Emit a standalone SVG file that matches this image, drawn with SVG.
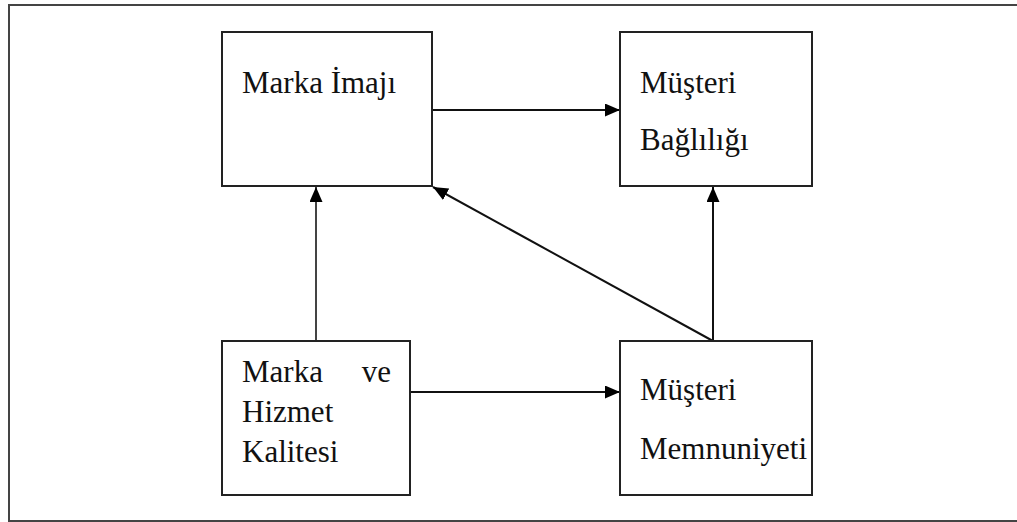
<svg xmlns="http://www.w3.org/2000/svg" width="1017" height="522" viewBox="0 0 1017 522">
  <defs>
    <marker id="arrow" markerUnits="userSpaceOnUse" markerWidth="15" markerHeight="13" refX="15" refY="6.5" orient="auto">
      <path d="M0,0 L15,6.5 L0,13 Z" fill="#000"/>
    </marker>
    <style>
      .box { fill: #fff; stroke: #222; stroke-width: 2; }
      .lbl { font-family: "Liberation Serif", "Times New Roman", serif; font-size: 31px; fill: #111; }
      .edge { stroke: #111; stroke-width: 2; fill: none; marker-end: url(#arrow); }
    </style>
  </defs>

  <rect width="1017" height="522" fill="#fff"/>
  <!-- outer frame -->
  <rect x="9" y="5" width="1020" height="516" fill="none" stroke="#444" stroke-width="2"/>

  <g id="connectors">
    <line class="edge" x1="432" y1="110" x2="620" y2="110"/>
    <line class="edge" x1="410" y1="392" x2="620" y2="392"/>
    <line class="edge" x1="316" y1="341" x2="316" y2="187" style="stroke:#444"/>
    <line class="edge" x1="713" y1="341" x2="713" y2="187"/>
    <line class="edge" x1="713" y1="341" x2="433" y2="187"/>
  </g>

  <g id="marka-imaji">
    <rect class="box" x="222" y="32" width="210" height="154"/>
    <text class="lbl" x="242" y="93">Marka İmajı</text>
  </g>

  <g id="musteri-bagliligi">
    <rect class="box" x="620" y="32" width="192" height="154"/>
    <text class="lbl" x="640" y="93">Müşteri</text>
    <text class="lbl" x="640" y="150">Bağlılığı</text>
  </g>

  <g id="marka-hizmet-kalitesi">
    <rect class="box" x="222" y="341" width="188" height="154"/>
    <text class="lbl" x="242" y="382">Marka</text>
    <text class="lbl" x="391" y="382" text-anchor="end">ve</text>
    <text class="lbl" x="242" y="422">Hizmet</text>
    <text class="lbl" x="242" y="462">Kalitesi</text>
  </g>

  <g id="musteri-memnuniyeti">
    <rect class="box" x="620" y="341" width="192" height="154"/>
    <text class="lbl" x="640" y="400">Müşteri</text>
    <text class="lbl" x="640" y="459">Memnuniyeti</text>
  </g>
</svg>
